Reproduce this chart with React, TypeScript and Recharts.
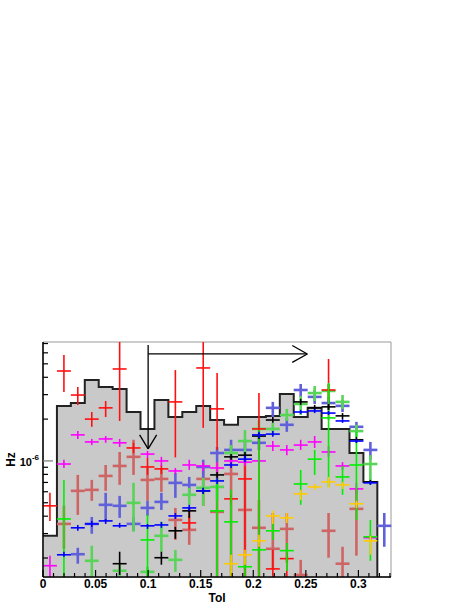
import React from "react";
import {
  ComposedChart,
  Area,
  Scatter,
  ErrorBar,
  XAxis,
  YAxis,
  ReferenceLine,
  ReferenceArea,
} from "recharts";

// values are in units of 1e-6 Hz, the axis shows "10^-6" at 1
const yDomain = [0.146, 7.18];
const xDomain = [0, 0.331];
const halfBin = 0.006625;

// histogram: left bin edges and bin contents
const binEdges = [
  0, 0.01325, 0.0265, 0.03975, 0.053, 0.06625, 0.0795, 0.09275, 0.106,
  0.11925, 0.1325, 0.14575, 0.159, 0.17225, 0.1855, 0.19875, 0.212, 0.22525,
  0.2385, 0.25175, 0.265, 0.27825, 0.2915, 0.30475, 0.318,
];
const histValues = [
  0.289, 2.49, 2.61, 3.83, 3.41, 3.3, 2.25, 1.7, 2.75, 2.07, 2.25, 2.49, 1.97,
  1.82, 2.07, 2.07, 2.11, 3.03, 2.07, 2.41, 1.7, 1.7, 1.14, 0.706,
];

// points: [x, value, low, high]
type Pt = [number, number, number, number];

const redPts: Pt[] = [
  [0.0066, 0.475, 0.37, 0.589],
  [0.0199, 4.44, 3.14, 5.79],
  [0.0331, 2.98, 2.53, 3.41],
  [0.0464, 2.0, 1.76, 2.25],
  [0.0596, 2.41, 2.07, 2.7],
  [0.0729, 4.59, 1.94, 7.18],
  [0.0861, 1.24, 1.14, 1.35],
  [0.0994, 0.905, 0.793, 1.05],
  [0.1126, 0.876, 0.806, 0.935],
  [0.1259, 2.66, 1.06, 4.51],
  [0.1391, 0.358, 0.319, 0.402],
  [0.1524, 4.67, 1.73, 7.18],
  [0.1656, 2.37, 1.2, 4.3],
  [0.1789, 0.533, 0.483, 0.579],
  [0.1921, 0.742, 0.146, 1.02],
  [0.2054, 1.7, 0.146, 3.08],
  [0.2186, 0.167, 0.146, 0.229],
  [0.2319, 0.198, 0.146, 0.218],
  [0.2716, 3.24, 1.97, 5.42],
];

const salmonPts: Pt[] = [
  [0.0199, 0.352, 0.233, 0.475],
  [0.0331, 0.609, 0.409, 0.793],
  [0.0464, 0.619, 0.516, 0.73],
  [0.0596, 0.78, 0.609, 0.935],
  [0.0729, 0.92, 0.672, 1.16],
  [0.0861, 1.07, 0.793, 1.42],
  [0.0994, 0.73, 0.516, 0.89],
  [0.1126, 0.742, 0.599, 0.89],
  [0.1259, 0.376, 0.27, 0.459],
  [0.1391, 0.319, 0.249, 0.459],
  [0.1524, 0.742, 0.475, 0.935],
  [0.1656, 0.43, 0.146, 0.98],
  [0.1789, 0.806, 0.146, 1.1],
  [0.1921, 0.444, 0.146, 1.02],
  [0.2054, 0.33, 0.146, 0.524],
  [0.2186, 0.233, 0.164, 0.422],
  [0.2319, 0.324, 0.185, 0.422],
  [0.2451, 0.151, 0.146, 0.194],
  [0.2716, 0.314, 0.201, 0.422],
  [0.2849, 0.182, 0.146, 0.241],
  [0.2981, 0.452, 0.208, 0.64],
];

const magentaPts: Pt[] = [
  [0.0066, 0.176, 0.146, 0.208],
  [0.0199, 0.95, 0.89, 1.02],
  [0.0331, 1.54, 1.44, 1.64],
  [0.0464, 1.37, 1.3, 1.44],
  [0.0596, 1.44, 1.35, 1.51],
  [0.0729, 1.35, 1.26, 1.44],
  [0.0994, 1.12, 1.05, 1.18],
  [0.1126, 1.0, 0.92, 1.07],
  [0.1259, 0.847, 0.806, 0.89],
  [0.1391, 0.935, 0.861, 1.02],
  [0.1524, 0.92, 0.847, 0.98],
  [0.1656, 0.89, 0.82, 0.98],
  [0.1789, 1.0, 0.935, 1.07],
  [0.1921, 0.98, 0.92, 1.05],
  [0.2054, 1.0, 0.935, 1.07],
  [0.2186, 1.28, 1.18, 1.39],
  [0.2319, 1.2, 1.1, 1.3],
  [0.2451, 1.3, 1.2, 1.42],
  [0.2584, 1.37, 1.24, 1.51],
  [0.2716, 1.16, 1.07, 1.28],
  [0.2849, 0.92, 0.861, 0.98],
  [0.2981, 0.629, 0.579, 0.695],
  [0.3114, 0.28, 0.266, 0.294],
];

const bluePts: Pt[] = [
  [0.0199, 0.211, 0.204, 0.222],
  [0.0331, 0.33, 0.314, 0.346],
  [0.0464, 0.352, 0.335, 0.37],
  [0.0596, 0.37, 0.352, 0.382],
  [0.0729, 0.341, 0.33, 0.358],
  [0.0994, 0.341, 0.324, 0.352],
  [0.1126, 0.346, 0.33, 0.364],
  [0.1259, 0.402, 0.382, 0.422],
  [0.1391, 0.459, 0.437, 0.483],
  [0.1524, 0.609, 0.579, 0.64],
  [0.1656, 0.718, 0.683, 0.755],
  [0.1789, 0.935, 0.89, 0.98],
  [0.1921, 1.03, 0.98, 1.09],
  [0.2054, 1.54, 1.46, 1.62],
  [0.2186, 1.56, 1.49, 1.64],
  [0.2451, 2.25, 2.18, 2.33],
  [0.2584, 2.29, 2.21, 2.37],
  [0.2716, 2.21, 2.14, 2.29],
  [0.2849, 1.94, 1.88, 2.0],
  [0.2981, 1.39, 1.35, 1.44],
  [0.3114, 0.695, 0.672, 0.718],
];

const lightBluePts: Pt[] = [
  [0.0331, 0.213, 0.182, 0.237],
  [0.0464, 0.352, 0.299, 0.395],
  [0.0596, 0.483, 0.37, 0.589],
  [0.0729, 0.475, 0.389, 0.56],
  [0.0861, 0.352, 0.314, 0.395],
  [0.0994, 0.459, 0.402, 0.516],
  [0.1126, 0.507, 0.444, 0.589],
  [0.1259, 0.695, 0.542, 0.82],
  [0.1391, 0.672, 0.579, 0.767],
  [0.1524, 0.905, 0.755, 1.02],
  [0.1656, 1.14, 0.98, 1.26],
  [0.1789, 1.2, 0.98, 1.42],
  [0.1921, 1.2, 0.98, 1.42],
  [0.2054, 1.35, 1.2, 1.49],
  [0.2186, 2.41, 2.07, 2.66],
  [0.2319, 1.82, 1.62, 2.04],
  [0.2451, 3.24, 2.89, 3.58],
  [0.2584, 2.89, 2.57, 3.24],
  [0.2716, 2.61, 2.33, 2.89],
  [0.2849, 2.49, 2.25, 2.75],
  [0.2981, 1.76, 1.59, 1.91],
  [0.3114, 1.2, 1.02, 1.37],
  [0.3246, 0.341, 0.241, 0.422],
];

const lightGreenPts: Pt[] = [
  [0.0464, 0.191, 0.146, 0.245],
  [0.0729, 0.162, 0.146, 0.179],
  [0.0861, 0.499, 0.309, 0.695],
  [0.0994, 0.159, 0.146, 0.173],
  [0.1126, 0.289, 0.222, 0.364],
  [0.1259, 0.194, 0.159, 0.229],
  [0.1391, 0.57, 0.483, 0.64],
  [0.1524, 0.64, 0.475, 0.755],
  [0.1656, 0.65, 0.524, 0.755],
  [0.1789, 1.14, 1.0, 1.3],
  [0.1921, 1.39, 1.1, 1.67],
  [0.2054, 1.7, 1.42, 1.97],
  [0.2186, 1.7, 1.51, 1.88],
  [0.2319, 2.14, 1.94, 2.37],
  [0.2451, 2.57, 2.14, 2.94],
  [0.2584, 3.08, 2.7, 3.46],
  [0.2716, 3.19, 2.75, 3.58],
  [0.2849, 2.66, 2.37, 2.98],
  [0.2981, 1.64, 1.49, 1.82],
  [0.3114, 0.95, 0.672, 1.1],
];

const greenPts: Pt[] = [
  [0.0199, 0.382, 0.146, 0.73],
  [0.0994, 0.27, 0.146, 0.409],
  [0.1656, 0.437, 0.146, 0.73],
  [0.1789, 0.364, 0.146, 0.619],
  [0.1921, 0.173, 0.146, 0.201],
  [0.2054, 0.229, 0.146, 1.67],
  [0.2186, 0.314, 0.27, 0.364],
  [0.2319, 0.226, 0.162, 0.257],
  [0.2451, 0.683, 0.483, 0.861],
  [0.2584, 1.03, 0.793, 1.2],
  [0.2716, 2.04, 0.65, 3.64],
  [0.2849, 0.767, 0.57, 0.92],
  [0.2981, 0.935, 0.376, 1.62],
  [0.3114, 0.284, 0.191, 0.376],
];

const blackPts: Pt[] = [
  [0.0729, 0.182, 0.151, 0.222],
  [0.1126, 0.201, 0.179, 0.222],
  [0.1259, 0.314, 0.275, 0.335],
  [0.1391, 0.437, 0.389, 0.467],
  [0.1524, 0.609, 0.579, 0.64],
  [0.1656, 0.793, 0.755, 0.833],
  [0.1789, 1.07, 1.02, 1.12],
  [0.1921, 1.1, 1.05, 1.16],
  [0.2054, 1.51, 1.44, 1.59],
  [0.2186, 1.97, 1.88, 2.07],
  [0.2451, 2.66, 2.53, 2.8],
  [0.2584, 2.41, 2.29, 2.53],
  [0.2716, 2.45, 2.33, 2.57],
  [0.2849, 2.11, 2.0, 2.21],
  [0.2981, 1.42, 1.35, 1.49],
  [0.3114, 0.706, 0.683, 0.73],
];

const orangePts: Pt[] = [
  [0.1789, 0.182, 0.146, 0.211],
  [0.1921, 0.211, 0.179, 0.229],
  [0.2054, 0.266, 0.241, 0.294],
  [0.2186, 0.402, 0.352, 0.437],
  [0.2319, 0.389, 0.358, 0.422],
  [0.2451, 0.579, 0.524, 0.619],
  [0.2584, 0.65, 0.619, 0.683],
  [0.2716, 0.706, 0.64, 0.767],
  [0.2849, 0.672, 0.629, 0.706],
  [0.2981, 0.491, 0.459, 0.516],
  [0.3114, 0.266, 0.211, 0.289],
];

// axis ticks
const xMajorTicks = [0, 0.05, 0.1, 0.15, 0.2, 0.25, 0.3];
const xTickLabels = ["0", "0.05", "0.1", "0.15", "0.2", "0.25", "0.3"];
const xMinorTicks = [
  0.01, 0.02, 0.03, 0.04, 0.06, 0.07, 0.08, 0.09, 0.11, 0.12, 0.13, 0.14, 0.16,
  0.17, 0.18, 0.19, 0.21, 0.22, 0.23, 0.24, 0.26, 0.27, 0.28, 0.29, 0.31, 0.32,
  0.33,
];
const yMajorTicks = [1];
const yMinorTicks = [0.2, 0.3, 0.4, 0.5, 0.6, 0.7, 0.8, 0.9, 2, 3, 4, 5, 6, 7];

// arrows: [[x1, y1], [x2, y2]]
const arrowSegments = [
  [[0.1, 6.84], [0.1, 1.22]],
  [[0.0919, 1.54], [0.1, 1.22]],
  [[0.1081, 1.54], [0.1, 1.22]],
  [[0.1, 5.89], [0.2514, 5.89]],
  [[0.2371, 6.78], [0.2514, 5.89]],
  [[0.2371, 5.12], [0.2514, 5.89]],
];

const FONT = "'Liberation Sans', Arial, sans-serif";

const histData = binEdges.map((x, i) => ({
  x,
  y: i < histValues.length ? histValues[i] : yDomain[0],
}));

function toPoints(pts: Pt[]) {
  return pts.map(([x, y, lo, hi]) => ({
    x,
    y,
    err: [y - lo, hi - y],
    xe: halfBin,
  }));
}

const series = [
  { name: "salmon", pts: salmonPts, color: "#cf6464", w: 2.6 },
  { name: "lightblue", pts: lightBluePts, color: "#6060da", w: 2.6 },
  { name: "lightgreen", pts: lightGreenPts, color: "#58d458", w: 2.6 },
  { name: "red", pts: redPts, color: "#ff1010", w: 1.6 },
  { name: "magenta", pts: magentaPts, color: "#ff00ff", w: 1.6 },
  { name: "green", pts: greenPts, color: "#00ee00", w: 1.6 },
  { name: "black", pts: blackPts, color: "#000000", w: 1.6 },
  { name: "blue", pts: bluePts, color: "#0000ff", w: 1.6 },
  { name: "orange", pts: orangePts, color: "#ffcc00", w: 1.6 },
];

function XTick(props: any) {
  const { x, y, payload } = props;
  const idx = xMajorTicks.indexOf(payload.value);
  return (
    <g>
      <line x1={x} y1={y} x2={x} y2={y - (idx >= 0 ? 7 : 4)} stroke="#000" strokeWidth={1.2} />
      {idx >= 0 && (
        <text x={x} y={y + 11} textAnchor="middle" fontFamily={FONT} fontWeight="bold" fontSize={12} fill="#000">
          {xTickLabels[idx]}
        </text>
      )}
    </g>
  );
}

function YTick(props: any) {
  const { x, y, payload } = props;
  const major = yMajorTicks.includes(payload.value);
  return (
    <g>
      <line x1={x} y1={y} x2={x + (major ? 10 : 5)} y2={y} stroke={major ? "#777" : "#000"} strokeWidth={1.2} />
      {major && (
        <text x={x - 4} y={y + 5} textAnchor="end" fontFamily={FONT} fontWeight="bold" fontSize={11} fill="#000">
          10
          <tspan dy={-6} fontSize={8}>
            -6
          </tspan>
        </text>
      )}
    </g>
  );
}

export default function App() {
  const xTicks = [...xMajorTicks, ...xMinorTicks].sort((a, b) => a - b);
  const yTicks = [...yMinorTicks, ...yMajorTicks].sort((a, b) => a - b);
  return (
    <div style={{ position: "absolute", left: 0, top: 0, width: 469, height: 607, background: "#fff" }}>
      <ComposedChart
        width={469}
        height={607}
        data={histData}
        margin={{ top: 342, right: 78, bottom: 0, left: 0 }}
      >
        <XAxis
          type="number"
          dataKey="x"
          domain={xDomain}
          allowDataOverflow
          ticks={xTicks}
          interval={0}
          tick={<XTick />}
          tickSize={0}
          tickMargin={0}
          tickLine={false}
          height={30}
          axisLine={{ stroke: "#000", strokeWidth: 1.5 }}
          label={{ value: "Tol", position: "insideBottom", offset: 5, fontFamily: FONT, fontWeight: "bold", fontSize: 12, fill: "#000" }}
        />
        <YAxis
          type="number"
          dataKey="y"
          scale="log"
          domain={yDomain}
          allowDataOverflow
          ticks={yTicks}
          interval={0}
          tick={<YTick />}
          tickSize={0}
          tickMargin={0}
          tickLine={false}
          width={43}
          axisLine={{ stroke: "#000", strokeWidth: 1.5 }}
          label={{ value: "Hz", angle: -90, position: "insideLeft", offset: 11, fontFamily: FONT, fontWeight: "bold", fontSize: 12, fill: "#000", style: { textAnchor: "middle" } }}
        />
        <ReferenceArea
          x1={xDomain[0]}
          x2={xDomain[1]}
          y1={yDomain[0]}
          y2={yDomain[1]}
          fill="none"
          stroke="#999"
          strokeWidth={1}
          ifOverflow="visible"
        />
        <Area
          type="stepAfter"
          dataKey="y"
          baseValue="dataMin"
          fill="#c9c9c9"
          fillOpacity={1}
          stroke="#222"
          strokeWidth={2}
          dot={false}
          activeDot={false}
          isAnimationActive={false}
        />
        {series.map((s) => (
          <Scatter
            key={s.name}
            data={toPoints(s.pts)}
            shape={() => <g />}
            isAnimationActive={false}
          >
            <ErrorBar dataKey="err" direction="y" width={0} stroke={s.color} strokeWidth={s.w} />
            <ErrorBar dataKey="xe" direction="x" width={0} stroke={s.color} strokeWidth={s.w} />
          </Scatter>
        ))}
        {arrowSegments.map((seg, i) => (
          <ReferenceLine
            key={i}
            segment={[
              { x: seg[0][0], y: seg[0][1] },
              { x: seg[1][0], y: seg[1][1] },
            ]}
            stroke="#000"
            strokeWidth={1.3}
            ifOverflow="visible"
          />
        ))}
      </ComposedChart>
    </div>
  );
}
